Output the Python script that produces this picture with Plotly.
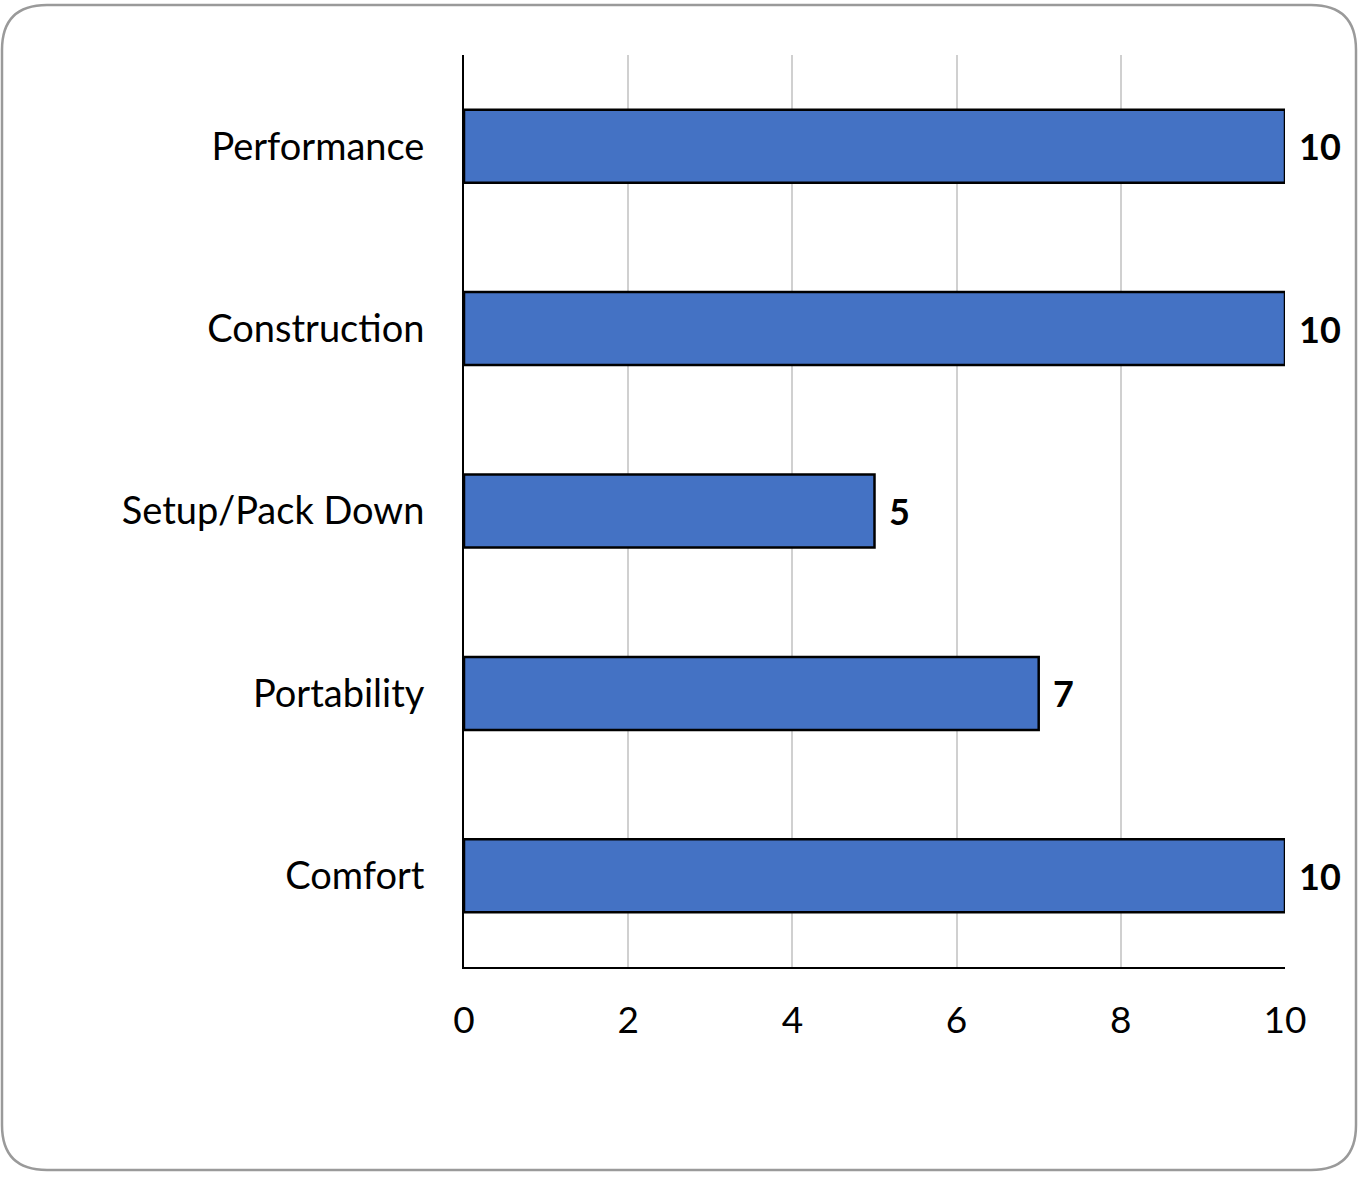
import plotly.graph_objects as go

categories = ["Performance", "Construction", "Setup/Pack Down", "Portability", "Comfort"]
scores = [10, 10, 5, 7, 10]
tick_vals = [0, 2, 4, 6, 8, 10]

W, H = 1361, 1177
L, R, T, B = 464, 1361 - 1285, 55, 1177 - 967
pw, ph = W - L - R, H - T - B

def px(x):
    return (x - L) / pw

def py(y):
    return (H - B - y) / ph

fig = go.Figure(go.Bar(
    y=categories, x=scores, orientation="h",
    marker=dict(color="#4472C4", line=dict(color="#000000", width=2.5)),
    cliponaxis=False, hoverinfo="x+y",
))

annotations = [
    dict(x=v, y=c, xref="x", yref="y", text=f"<b>{v}</b>", showarrow=False,
         xanchor="left", yanchor="middle", xshift=12, yshift=0,
         font=dict(size=36, color="#000000", family="Lato"))
    for c, v in zip(categories, scores)
]

# rounded border
x0, x1, y0, y1, r = 2, 1356, 5, 1170, 45
path = (f"M {px(x0+r)},{py(y0)} L {px(x1-r)},{py(y0)} "
        f"Q {px(x1)},{py(y0)} {px(x1)},{py(y0+r)} "
        f"L {px(x1)},{py(y1-r)} Q {px(x1)},{py(y1)} {px(x1-r)},{py(y1)} "
        f"L {px(x0+r)},{py(y1)} Q {px(x0)},{py(y1)} {px(x0)},{py(y1-r)} "
        f"L {px(x0)},{py(y0+r)} Q {px(x0)},{py(y0)} {px(x0+r)},{py(y0)} Z")

fig.update_layout(
    width=W, height=H,
    margin=dict(l=L, r=R, t=T, b=B),
    paper_bgcolor="white", plot_bgcolor="white",
    showlegend=False, bargap=0.6,
    font=dict(family="Lato", size=37, color="#000000"),
    xaxis=dict(range=[0, 10], tickvals=tick_vals, showgrid=True, gridcolor="#d0d0d0",
               gridwidth=2, zeroline=False, showline=True, linecolor="#000000",
               linewidth=2, ticks="", tickfont=dict(size=37), ticklabelstandoff=20),
    yaxis=dict(autorange="reversed", showline=True, linecolor="#000000", linewidth=2,
               ticks="", tickfont=dict(size=38), ticklabelstandoff=30, showgrid=False),
    annotations=annotations,
    shapes=[dict(type="path", path=path, xref="paper", yref="paper",
                 line=dict(color="#9a9a9a", width=2.5), layer="below")],
)

fig.write_html("out.html", config={"displayModeBar": False},
               post_script="document.body.style.margin='0';")
